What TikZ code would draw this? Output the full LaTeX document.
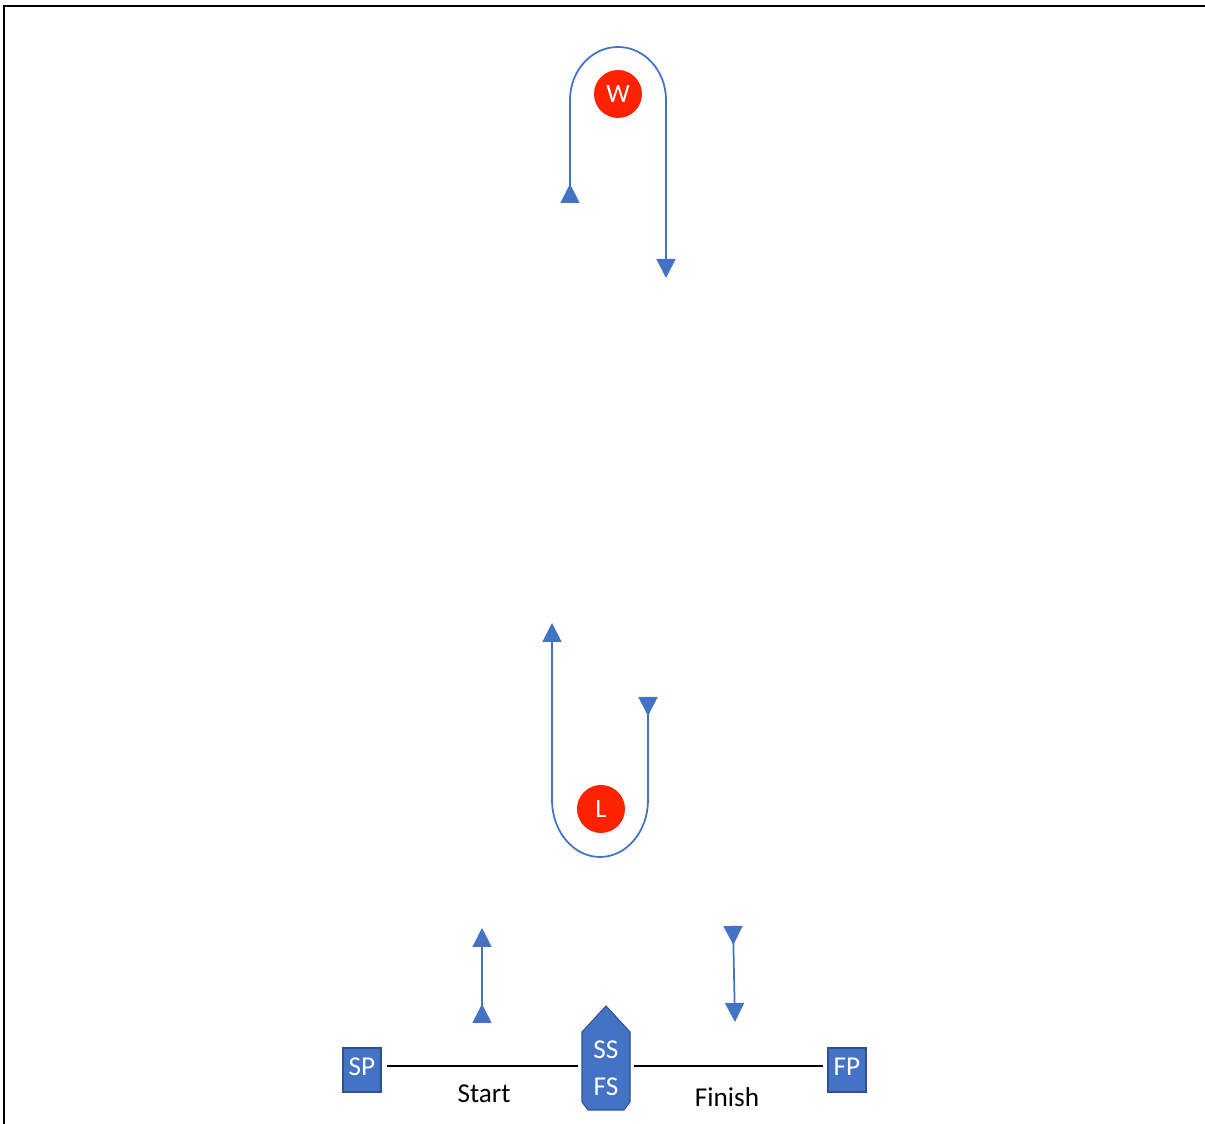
\documentclass[tikz,border=0pt]{standalone}
\usepackage{fontspec}
\setmainfont{Carlito}
\usetikzlibrary{arrows.meta}

\definecolor{markblue}{HTML}{4472C4}
\definecolor{markedge}{HTML}{2F528F}
\definecolor{buoyred}{HTML}{FF2200}

\tikzset{
  buoy/.style = {circle, fill=buoyred, text=white, minimum size=0.96cm, inner sep=0pt,
                 font=\fontsize{15}{18}\selectfont},
  pin/.style = {rectangle, fill=markblue, draw=markedge, line width=0.6pt, text=white,
                minimum width=0.76cm, minimum height=0.88cm, inner sep=0pt, text depth=0.14cm,
                font=\fontsize{15.5}{18}\selectfont},
  tip/.tip = {Triangle[width=0.38cm, length=0.38cm]},
  track/.style = {markblue, line width=1pt, {tip[reversed]}-{tip}},
  courseline/.style = {black, line width=1pt},
  lbl/.style = {font=\fontsize{15.5}{18}\selectfont}
}

\begin{document}
\begin{tikzpicture}[x=0.02cm, y=0.02cm]
    \useasboundingbox (0,0) rectangle (1205,1124);
    \draw[line width=1.2pt] (4,0) -- (4,1118) -- (1205,1118);

    % Marks
    \node[buoy] (w) at (618,1030) {W};
    \node[buoy] (l) at (601,315) {L};
    \node[pin] (sp) at (362,54) {SP};
    \node[pin] (fp) at (847,54) {FP};
    \fill[markblue, draw=markedge, line width=0.6pt]
      (606,118) -- (630,92) -- (630,22) -- (624,14) -- (588,14) -- (582,22) -- (582,92) -- cycle;
    \node[text=white, align=center, minimum width=1.1cm, inner sep=0pt,
          font=\fontsize{15.5}{21}\selectfont] (ssfs) at (606,56) {SS\\FS};
    \node[lbl] (startlbl) at (484,30) {Start};
    \node[lbl] (finishlbl) at (727,27) {Finish};

    % Start and finish line
    \path (sp.east) ++(5,4) coordinate (sl);
    \path (fp.west) ++(-4,4) coordinate (fl);
    \draw[courseline] (sl) -- (sl -| ssfs.west);
    \draw[courseline] (fl -| ssfs.east) -- (fl);

    % Legs
    \coordinate (wa) at (570,921);
    \coordinate (wb) at (666,846);
    \coordinate (la) at (648,427);
    \coordinate (lb) at (552,501);
    \draw[track] (wa) -- (570,1024) arc[start angle=180, end angle=0, x radius=48, y radius=53] -- (wb);
    \draw[track] (la) -- (648,324) arc[start angle=0, end angle=-180, x radius=48, y radius=57] -- (lb);
    \coordinate (sa) at (482,101);
    \coordinate (sb) at (482,196);
    \coordinate (fa) at (733,198);
    \coordinate (fb) at (735,102);
    \draw[track] (sa) -- (sb);
    \draw[track] (fa) -- (fb);
\end{tikzpicture}
\end{document}
